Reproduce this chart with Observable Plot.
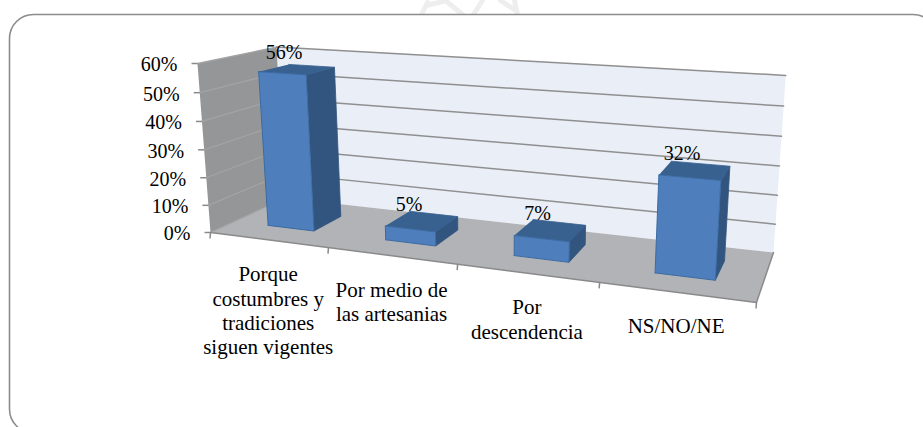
<!DOCTYPE html>
<html>
<head>
<meta charset="utf-8">
<script src="https://cdn.jsdelivr.net/npm/d3@7"></script>
<script src="https://cdn.jsdelivr.net/npm/@observablehq/plot@0.6"></script>
<style>html,body{margin:0;padding:0;background:#fff}svg{display:block}</style>
</head>
<body>
<div id="chart"></div>
<script>
// Data
const categories = ["Porque\ncostumbres y\ntradiciones\nsiguen vigentes", "Por medio de\nlas artesanias", "Por\ndescendencia", "NS/NO/NE"];
const values = [56, 5, 7, 32];
const axisTicks = [0, 10, 20, 30, 40, 50, 60];
const axisMax = 60;
const gapShare = 0.3; // Excel gap width 150%: the bar fills the middle 40% of its slot

// Perspective of the 3D box: u across categories, d into depth, v up the value axis
const O = [210, 232], Eu = [756, 302], Ed = [284.6, 197.5], Ev = [197, 63];
const pu = -0.173, pd = 0.124, pv = -0.042;
function project(u, d, v) {
  const w = 1 + pu * u + pd * d + pv * v;
  const f = i => (O[i] + u * ((1 + pu) * Eu[i] - O[i]) + d * ((1 + pd) * Ed[i] - O[i]) + v * ((1 + pv) * Ev[i] - O[i])) / w;
  return {x: f(0), y: f(1)};
}
const V = t => t / axisMax;
const poly = (id, pts) => pts.map(p => ({id, ...project(...p)}));
const n = categories.length;

const backWall = poly("back", [[0,1,0],[1,1,0],[1,1,1],[0,1,1]]);
const leftWall = poly("left", [[0,0,0],[0,1,0],[0,1,1],[0,0,1]]);
const floor = poly("floor", [[0,0,0],[1,0,0],[1,1,0],[0,1,0]]);
const floorEdge = poly("edge", [[0,0,0],[1,0,0],[1,1,0]]);

const gridLeft = axisTicks.flatMap(t => poly("g" + t, [[0,0,V(t)],[0,1,V(t)]]));
const gridBack = axisTicks.filter(t => t > 0).flatMap(t => poly("g" + t, [[0,1,V(t)],[1,1,V(t)]]));

const bars = values.map((value, i) => ({
  value, i,
  u0: (i + gapShare) / n, u1: (i + 1 - gapShare) / n,
  d0: gapShare, d1: 1 - gapShare, v: V(value)
}));
const fronts = bars.flatMap(b => poly("f" + b.i, [[b.u0,b.d0,0],[b.u1,b.d0,0],[b.u1,b.d0,b.v],[b.u0,b.d0,b.v],[b.u0,b.d0,0]]));
const sides = bars.flatMap(b => poly("s" + b.i, [[b.u1,b.d0,0],[b.u1,b.d1,0],[b.u1,b.d1,b.v],[b.u1,b.d0,b.v]]));
const tops = bars.flatMap(b => poly("t" + b.i, [[b.u0,b.d0,b.v],[b.u1,b.d0,b.v],[b.u1,b.d1,b.v],[b.u0,b.d1,b.v]]));

const valueLabels = bars.map(b => ({
  ...project((b.u0 + b.u1) / 2, 0.5, b.v), label: b.value + "%"
}));
const categoryLabels = categories.map((label, i) => ({...project((i + 0.5) / n, 0, 0), label}));
const yLabels = axisTicks.map(t => ({...project(0, 0, V(t)), label: t + "%"}));
const xTicks = d3.range(n + 1).map(i => project(i / n, 0, 0));

// Rounded panel that runs off the page, and the scan's faint watermark above it
const panel = [{x1: 9.5, x2: 937, y1: 14.5, y2: 433}];
const watermark = [
  {id: "a", x: 421, y: 14}, {id: "a", x: 427, y: 2},
  {id: "b", x: 426, y: 5}, {id: "b", x: 446, y: 0},
  {id: "c", x: 445, y: 0}, {id: "c", x: 462, y: 14},
  {id: "d", x: 473, y: 14}, {id: "d", x: 482, y: 0},
  {id: "e", x: 500, y: 0}, {id: "e", x: 515, y: 10},
  {id: "f", x: 514, y: 0}, {id: "f", x: 517, y: 14}
];

const serif = "Liberation Serif";
const chart = Plot.plot({
  width: 923, height: 427,
  marginTop: 0, marginRight: 0, marginBottom: 0, marginLeft: 0,
  x: {domain: [0, 923], range: [0, 923], axis: null},
  y: {domain: [0, 427], range: [0, 427], axis: null},
  style: {background: "#fff"},
  marks: [
    Plot.line(watermark, {x: "x", y: "y", z: "id", stroke: "#eeeeee", strokeWidth: 5}),
    Plot.rect(panel, {x1: "x1", x2: "x2", y1: "y1", y2: "y2", rx: 24, fill: "#fff", stroke: "#8c8c8c", strokeWidth: 1.6}),
    Plot.line(backWall, {x: "x", y: "y", z: "id", fill: "#e9eef7", stroke: "none"}),
    Plot.line(leftWall, {x: "x", y: "y", z: "id", fill: "#959698", stroke: "none"}),
    Plot.line(floor, {x: "x", y: "y", z: "id", fill: "#b1b3b6", stroke: "none"}),
    Plot.line(gridLeft, {x: "x", y: "y", z: "id", stroke: "#a3a3a3", strokeWidth: 1.3}),
    Plot.line(gridBack, {x: "x", y: "y", z: "id", stroke: "#8f8f8f", strokeWidth: 1.5}),
    Plot.line(floorEdge, {x: "x", y: "y", z: "id", stroke: "#8a8a8a", strokeWidth: 1.5}),
    Plot.link(yLabels, {x1: d => d.x - 6, x2: "x", y1: "y", y2: "y", stroke: "#8a8a8a", strokeWidth: 1.5}),
    Plot.link(xTicks, {x1: "x", x2: d => d.x - 0.5, y1: "y", y2: d => d.y + 6, stroke: "#8a8a8a", strokeWidth: 1.5}),
    Plot.line(sides, {x: "x", y: "y", z: "id", fill: "#32557f", stroke: "#32557f", strokeWidth: 0.8}),
    Plot.line(tops, {x: "x", y: "y", z: "id", fill: "#39618f", stroke: "#39618f", strokeWidth: 0.8}),
    Plot.line(fronts, {x: "x", y: "y", z: "id", fill: "#4e7fbc", stroke: "#3c6ba3", strokeWidth: 1}),
    Plot.text(yLabels, {x: "x", y: "y", text: "label", textAnchor: "end", lineAnchor: "middle", dx: -20, dy: 1.5, fontFamily: serif, fontSize: 20, fill: "#000"}),
    Plot.text(valueLabels, {x: "x", y: "y", text: "label", textAnchor: "middle", lineAnchor: "middle", dx: -13, dy: -17, fontFamily: serif, fontSize: 20, fill: "#000"}),
    Plot.text(categoryLabels, {x: "x", y: "y", text: "label", textAnchor: "middle", lineAnchor: "top", dy: 24, lineHeight: 1.16, fontFamily: serif, fontSize: 21, fill: "#000"})
  ]
});
document.getElementById("chart").append(chart);
</script>
</body>
</html>
